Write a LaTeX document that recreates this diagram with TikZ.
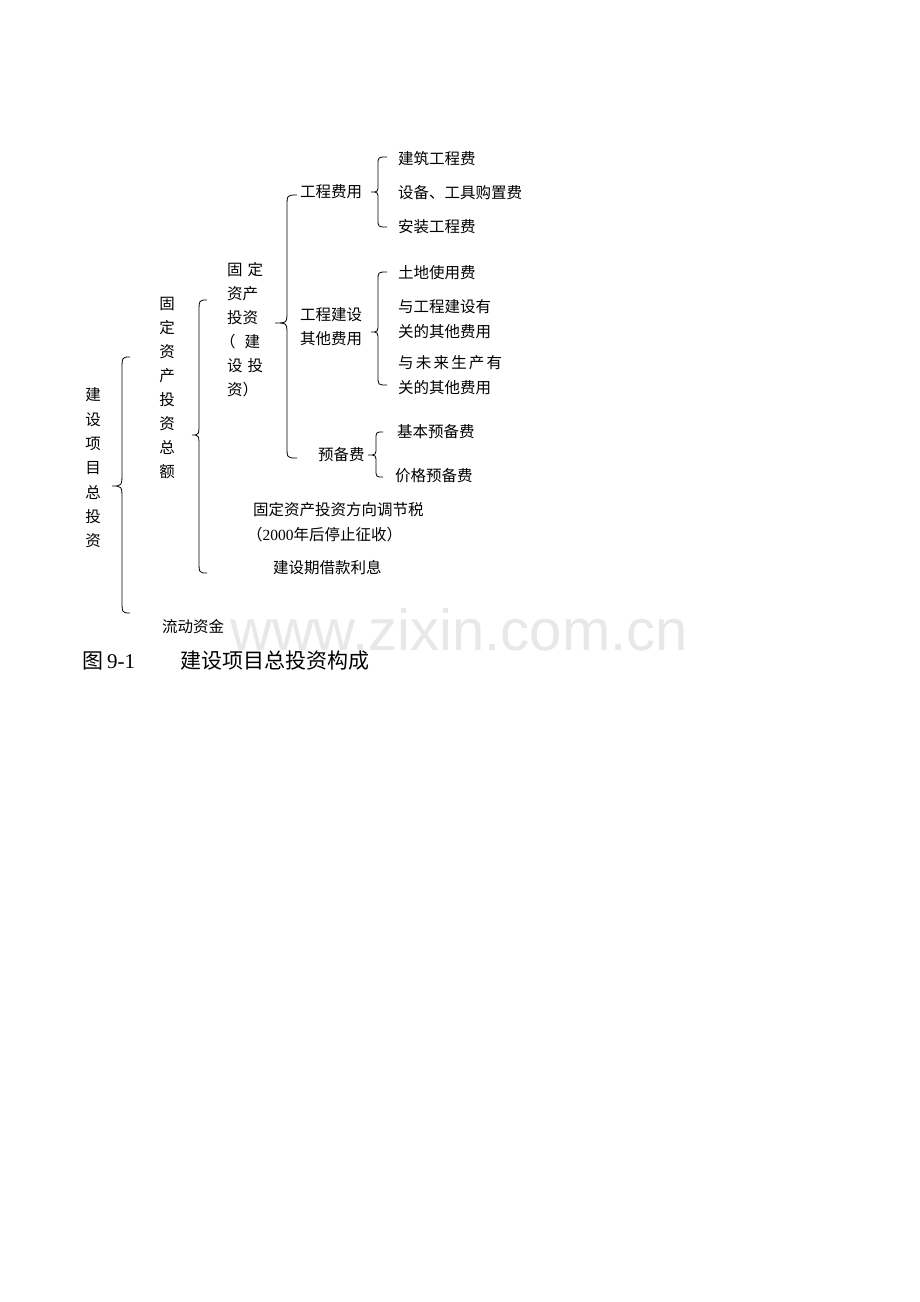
\documentclass[tikz,border=0pt]{standalone}
\usepackage{fontspec}
\setmainfont{Liberation Serif}
\newfontfamily\cjk{Noto Sans CJK SC}
\newfontfamily\wmfont{Liberation Sans}
\newcommand\bodyfont{\cjk\fontsize{15.5}{24}\selectfont}
\newcommand\mybrace[7]{%
  \draw[bracestyle] (#1,#4) .. controls (#2,#4) .. (#2,#4+#7) -- (#2,#5-#7)
    .. controls (#2,#5) .. (#3,#5) .. controls (#2,#5) .. (#2,#5+#7)
    -- (#2,#6-#7) .. controls (#2,#6) .. (#1,#6);}
\tikzset{
  txt/.style={inner sep=0pt, anchor=west, font=\bodyfont, align=left},
  vtxt/.style={inner sep=0pt, anchor=center, align=center},
  bracestyle/.style={line width=0.8pt, black},
}
\begin{document}
\begin{tikzpicture}[x=1pt,y=-1pt]
\fill[white] (0,0) rectangle (920,1302);
\useasboundingbox (0,0) rectangle (920,1302);
% watermark
\node[inner sep=0pt, anchor=base west, text=black!9, font=\wmfont\fontsize{58}{60}\selectfont] (wm) at (230,650) {www.zixin.com.cn};
% braces
\mybrace{130}{122}{112}{357}{486}{613}{14}
\mybrace{207}{199}{192}{300}{435}{573}{13}
\mybrace{297}{287}{275}{195}{323}{458}{12}
\mybrace{387}{378}{371}{157}{192}{227}{8}
\mybrace{387}{378}{371}{272}{332}{385}{9}
\mybrace{383}{376}{368}{432}{455}{477}{8}
% vertical texts
\node[vtxt, font={\cjk\fontsize{15.5}{24.3}\selectfont}] (v1) at (93,468) {建\\设\\项\\目\\总\\投\\资};
\node[vtxt, font={\cjk\fontsize{15.5}{24.1}\selectfont}] (v2) at (167,388) {固\\定\\资\\产\\投\\资\\总\\额};
\node[txt, font={\cjk\fontsize{15.5}{24}\selectfont}] (v3) at (227,330) {固\hspace{5pt}定\\资产\\投资\\\hspace*{-7pt}（\hspace{9pt}建\\设\hspace{5pt}投\\资）};
% level texts
\node[txt] (gcfy) at (300,192) {工程费用};
\node[txt] (jz) at (398,159) {建筑工程费};
\node[txt] (sb) at (398,193) {设备、工具购置费};
\node[txt] (az) at (398,227) {安装工程费};
\node[txt] (qt) at (300,326.5) {工程建设\\其他费用};
\node[txt] (td) at (398,273) {土地使用费};
\node[txt, font={\cjk\fontsize{15.5}{25}\selectfont}] (ygc) at (398,319.5) {与工程建设有\\关的其他费用};
\node[txt, font={\cjk\fontsize{15.5}{25}\selectfont}] (ywl) at (398,375.5) {与\hspace{2.2pt}未\hspace{2.2pt}来\hspace{2.2pt}生\hspace{2.2pt}产\hspace{2.2pt}有\\关的其他费用};
\node[txt] (ybf) at (318,455) {预备费};
\node[txt] (jb) at (397,432) {基本预备费};
\node[txt] (jg) at (395,476) {价格预备费};
\node[txt] (fx) at (253,510) {固定资产投资方向调节税};
\node[txt] (tz) at (247,535) {（{\rmfamily 2000}年后停止征收）};
\node[txt] (jsq) at (273,568) {建设期借款利息};
\node[txt] (ld) at (162,627) {流动资金};
% caption
\node[inner sep=0pt, anchor=west, font=\fontsize{21}{24}\selectfont] (cap1) at (82,661) {{\cjk 图}\hspace{4pt}9-1};
\node[inner sep=0pt, anchor=west, font=\cjk\fontsize{21}{24}\selectfont] (cap2) at (180,661) {建设项目总投资构成};
\end{tikzpicture}
\end{document}
